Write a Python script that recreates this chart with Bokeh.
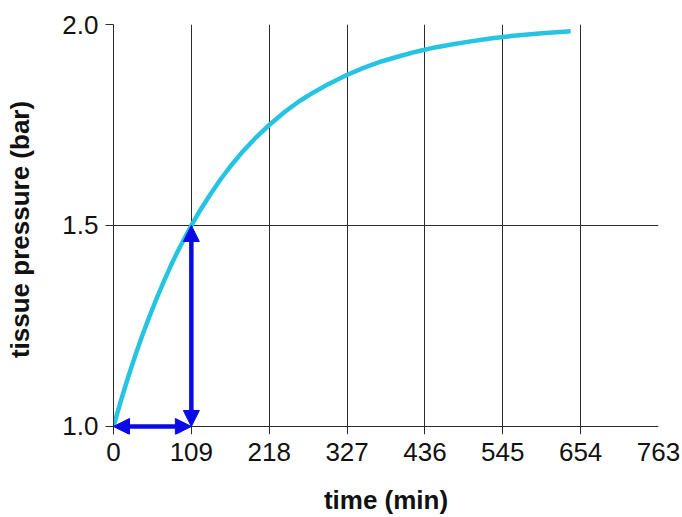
from bokeh.plotting import figure
from bokeh.models import Range1d, FixedTicker, Arrow, NormalHead, CustomJSTickFormatter
from bokeh.embed import file_html
from bokeh.resources import INLINE

# data
time_min = [0, 10, 20, 30, 40, 50, 60, 70, 80, 90, 100, 109, 120, 135, 150, 165, 180, 200, 218,
            240, 260, 280, 300, 325, 350, 375, 400, 425, 450, 475, 500, 530, 560, 600, 640]
pressure = [1.0, 1.062, 1.12, 1.174, 1.225, 1.272, 1.317, 1.359, 1.399, 1.436, 1.47, 1.5, 1.534,
            1.576, 1.615, 1.65, 1.682, 1.72, 1.75, 1.783, 1.809, 1.831, 1.851, 1.873, 1.892, 1.908,
            1.921, 1.933, 1.943, 1.951, 1.958, 1.966, 1.972, 1.978, 1.983]
x_ticks = [0, 109, 218, 327, 436, 545, 654, 763]
y_ticks = [1.0, 1.5, 2.0]
half_time = 109
p_start = 1.0
p_half = 1.5

FONT = "Liberation Sans"
GRID = "#2b2b2b"

# frame reaches a little below 1.0 so the grid lines double as x tick marks
# and the arrow heads on the 1.0 line are not cut off
p = figure(width=682, height=517, output_backend="svg", toolbar_location=None,
           x_range=Range1d(0, 763), y_range=Range1d(0.98, 2.0),
           min_border_left=113, min_border_right=24, min_border_top=24, min_border_bottom=82)
p.outline_line_color = None
p.background_fill_color = "white"
p.border_fill_color = "white"

for ax in (p.xaxis[0], p.yaxis[0]):
    ax.axis_line_color = GRID
    ax.axis_line_width = 1
    ax.major_tick_line_color = GRID
    ax.major_tick_in = 0
    ax.minor_tick_line_color = None
    ax.major_label_text_font = FONT
    ax.major_label_text_font_size = "26px"
    ax.major_label_text_color = "#111111"
    ax.axis_label_text_font = FONT
    ax.axis_label_text_font_size = "26px"
    ax.axis_label_text_font_style = "bold"
    ax.axis_label_text_color = "#111111"

p.xaxis[0].axis_line_color = None
p.xaxis[0].major_tick_out = 0
p.yaxis[0].major_tick_out = 8
p.xaxis[0].ticker = FixedTicker(ticks=x_ticks)
p.yaxis[0].ticker = FixedTicker(ticks=y_ticks)
p.yaxis[0].formatter = CustomJSTickFormatter(code="return tick.toFixed(1);")
p.xaxis[0].axis_label = "time (min)"
p.yaxis[0].axis_label = "tissue pressure (bar)"
p.xaxis[0].major_label_standoff = 8
p.yaxis[0].major_label_standoff = 7
p.xaxis[0].axis_label_standoff = 21
p.yaxis[0].axis_label_standoff = 24

p.xgrid[0].ticker = FixedTicker(ticks=x_ticks)
p.ygrid[0].ticker = FixedTicker(ticks=y_ticks)
p.xgrid[0].grid_line_color = GRID
p.ygrid[0].grid_line_color = GRID
p.xgrid[0].grid_line_width = 1
p.ygrid[0].grid_line_width = 1

p.line(time_min, pressure, line_color="#27c3e3", line_width=4.5, line_join="round")

BLUE = "#0a0ae6"
def head():
    return NormalHead(size=16, fill_color=BLUE, line_color=BLUE, line_width=1)

p.add_layout(Arrow(start=head(), end=head(), x_start=0, y_start=p_start, x_end=half_time, y_end=p_start,
                   line_color=BLUE, line_width=4.5))
p.add_layout(Arrow(start=head(), end=head(), x_start=half_time, y_start=p_start, x_end=half_time, y_end=p_half,
                   line_color=BLUE, line_width=4.5))

open("out.html", "w").write(file_html(p, INLINE))
